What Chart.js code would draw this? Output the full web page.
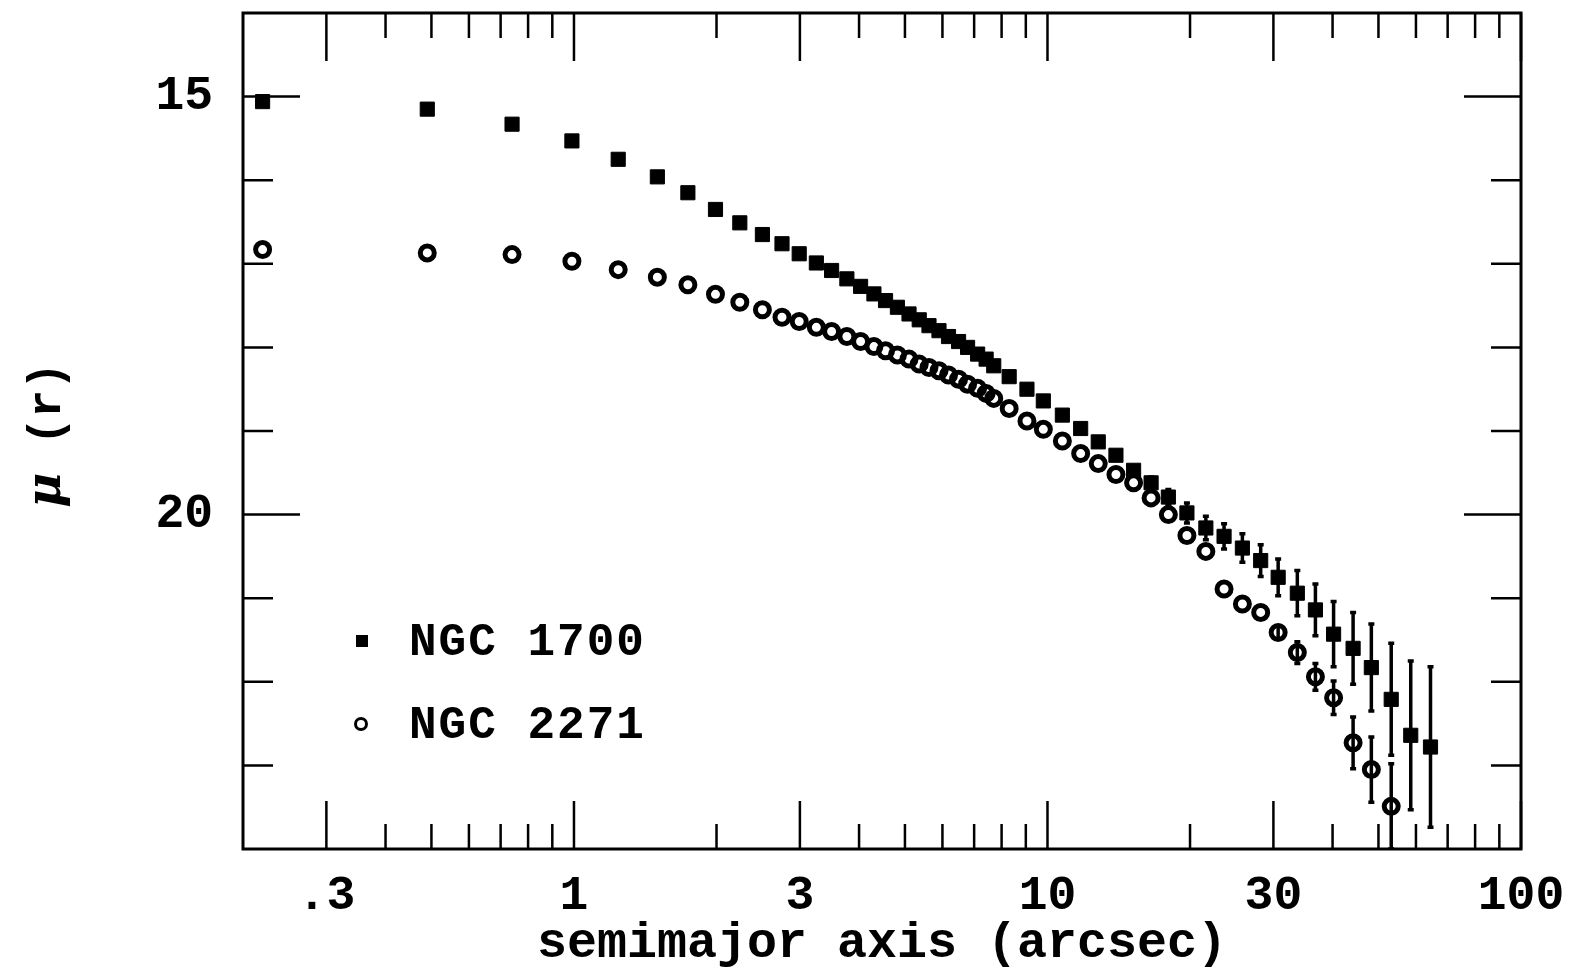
<!DOCTYPE html>
<html>
<head>
<meta charset="utf-8">
<title>Surface brightness profiles</title>
<script src="https://cdn.jsdelivr.net/npm/chart.js@4.4.1/dist/chart.umd.min.js"></script>
<style>
  html, body { margin: 0; padding: 0; background: #fff; }
  canvas { display: block; }
</style>
</head>
<body>
<canvas id="profileChart" width="1585" height="969"></canvas>
<script>
// semimajor axis (arcsec), same sampling for both galaxies
const radius = [0.22, 0.49, 0.74, 0.99, 1.24, 1.50, 1.74, 1.99, 2.24, 2.50,
  2.75, 2.99, 3.25, 3.50, 3.77, 4.03, 4.30, 4.55, 4.82, 5.10,
  5.36, 5.62, 5.90, 6.18, 6.49, 6.78, 7.12, 7.42, 7.70, 8.30,
  9.05, 9.80, 10.75, 11.75, 12.8, 13.95, 15.2, 16.55, 18.0, 19.7,
  21.6, 23.6, 25.8, 28.2, 30.7, 33.7, 36.8, 40.2, 44.2, 48.3,
  53.2, 58.5, 64.4];

// NGC 1700 (filled squares)
const ngc1700Mu = [15.06, 15.15, 15.33, 15.53, 15.75, 15.96, 16.15, 16.35, 16.51, 16.65,
  16.76, 16.88, 16.99, 17.08, 17.18, 17.27, 17.36, 17.44, 17.52, 17.60,
  17.67, 17.74, 17.80, 17.87, 17.93, 18.00, 18.08, 18.14, 18.22, 18.35,
  18.50, 18.64, 18.81, 18.97, 19.13, 19.29, 19.47, 19.62, 19.79, 19.98,
  20.16, 20.26, 20.40, 20.55, 20.75, 20.94, 21.14, 21.43, 21.60, 21.83,
  22.21, 22.64, 22.78];
const ngc1700Err = [0, 0, 0, 0, 0, 0, 0, 0, 0, 0,
  0, 0, 0, 0, 0, 0, 0, 0, 0, 0,
  0, 0, 0, 0, 0, 0, 0, 0, 0, 0,
  0, 0, 0, 0, 0, 0, 0, 0.07, 0.09, 0.12,
  0.14, 0.15, 0.17, 0.19, 0.22, 0.27, 0.31, 0.39, 0.43, 0.52,
  0.67, 0.89, 0.96];

// NGC 2271 (open circles)
const ngc2271Mu = [16.83, 16.87, 16.89, 16.97, 17.07, 17.16, 17.25, 17.365, 17.46, 17.55,
  17.64, 17.69, 17.76, 17.81, 17.87, 17.93, 17.99, 18.04, 18.09, 18.14,
  18.20, 18.24, 18.28, 18.33, 18.38, 18.44, 18.49, 18.55, 18.61, 18.73,
  18.88, 18.98, 19.12, 19.27, 19.39, 19.52, 19.62, 19.80, 20.00, 20.25,
  20.44, 20.89, 21.07, 21.17, 21.41, 21.65, 21.94, 22.19, 22.73, 23.05,
  23.49, null, null];
const ngc2271Err = [0, 0, 0, 0, 0, 0, 0, 0, 0, 0,
  0, 0, 0, 0, 0, 0, 0, 0, 0, 0,
  0, 0, 0, 0, 0, 0, 0, 0, 0, 0,
  0, 0, 0, 0, 0, 0, 0, 0, 0, 0,
  0, 0, 0, 0, 0.08, 0.13, 0.16, 0.20, 0.31, 0.39,
  0.51, 0, 0];

const xMajorTicks = [0.3, 1, 3, 10, 30, 100];
const xTickLabels = ['.3', '1', '3', '10', '30', '100'];
const xMinorTicks = [0.4, 0.5, 0.6, 0.7, 0.8, 0.9, 2, 4, 5, 6, 7, 8, 9, 20, 40, 50, 60, 70, 80, 90];
const yMajorTicks = [15, 20];
const yTickLabels = ['15', '20'];
const yMinorTicks = [16, 17, 18, 19, 21, 22, 23];
const legendLabels = ['NGC 1700', 'NGC 2271'];
const xTitle = 'semimajor axis (arcsec)';
const yTitleParts = ['\u03bc', ' (r)'];

const MONO = '"Liberation Mono", monospace';

function toPoints(mu) {
  return radius.map((r, i) => mu[i] == null ? null : { x: r, y: mu[i] }).filter(p => p);
}

// box with inward ticks on all four sides
const framePlugin = {
  id: 'frame',
  beforeDatasetsDraw(chart) {
    const { ctx, chartArea: a, scales: { x, y } } = chart;
    ctx.save();
    ctx.strokeStyle = '#000';
    ctx.lineWidth = 3;
    ctx.strokeRect(a.left, a.top, a.right - a.left, a.bottom - a.top);
    ctx.lineWidth = 2.5;
    ctx.beginPath();
    const xTicks = (vals, len) => vals.forEach(v => {
      const px = x.getPixelForValue(v);
      ctx.moveTo(px, a.bottom); ctx.lineTo(px, a.bottom - len);
      ctx.moveTo(px, a.top); ctx.lineTo(px, a.top + len);
    });
    const yTicks = (vals, len) => vals.forEach(v => {
      const py = y.getPixelForValue(v);
      ctx.moveTo(a.left, py); ctx.lineTo(a.left + len, py);
      ctx.moveTo(a.right, py); ctx.lineTo(a.right - len, py);
    });
    xTicks(xMajorTicks, 48);
    xTicks(xMinorTicks, 25);
    yTicks(yMajorTicks, 57);
    yTicks(yMinorTicks, 30);
    ctx.stroke();
    ctx.restore();
  }
};

const errorBarPlugin = {
  id: 'errorBars',
  afterDatasetsDraw(chart) {
    const { ctx, chartArea: a, scales: { x, y } } = chart;
    const sets = [[ngc1700Mu, ngc1700Err], [ngc2271Mu, ngc2271Err]];
    ctx.save();
    ctx.beginPath();
    ctx.rect(a.left, a.top, a.right - a.left, a.bottom - a.top);
    ctx.clip();
    ctx.strokeStyle = '#000';
    ctx.lineWidth = 3.5;
    ctx.beginPath();
    sets.forEach(([mu, err]) => {
      radius.forEach((r, i) => {
        if (mu[i] == null || !err[i]) return;
        const px = x.getPixelForValue(r);
        const y1 = y.getPixelForValue(mu[i] - err[i]);
        const y2 = y.getPixelForValue(mu[i] + err[i]);
        ctx.moveTo(px, y1); ctx.lineTo(px, y2);
        ctx.moveTo(px - 3, y1); ctx.lineTo(px + 3, y1);
        ctx.moveTo(px - 3, y2); ctx.lineTo(px + 3, y2);
      });
    });
    ctx.stroke();
    ctx.restore();
  }
};

const legendPlugin = {
  id: 'innerLegend',
  afterDraw(chart) {
    const ctx = chart.ctx;
    const rows = [{ y: 641 }, { y: 724 }];
    ctx.save();
    ctx.fillStyle = '#000';
    ctx.strokeStyle = '#000';
    // square
    ctx.fillRect(356, rows[0].y - 6, 12, 12);
    // ring
    ctx.lineWidth = 3;
    ctx.beginPath();
    ctx.arc(361, rows[1].y, 5.5, 0, Math.PI * 2);
    ctx.stroke();
    ctx.font = 'bold 46px ' + MONO;
    ctx.letterSpacing = '2px';
    ctx.textBaseline = 'middle';
    ctx.textAlign = 'left';
    legendLabels.forEach((t, i) => ctx.fillText(t, 409, rows[i].y + 2));
    ctx.restore();
  }
};

const yTitlePlugin = {
  id: 'yTitle',
  afterDraw(chart) {
    const { ctx, chartArea: a } = chart;
    const cy = (a.top + a.bottom) / 2 + 4;
    const muFont = 'italic bold 48px "DejaVu Serif"';
    const restFont = 'bold 46px ' + MONO;
    ctx.save();
    ctx.translate(48, cy);
    ctx.rotate(-Math.PI / 2);
    ctx.fillStyle = '#000';
    ctx.textBaseline = 'middle';
    ctx.textAlign = 'left';
    ctx.font = muFont;
    const w1 = ctx.measureText(yTitleParts[0]).width;
    ctx.font = restFont;
    const w2 = ctx.measureText(yTitleParts[1]).width;
    const x0 = -(w1 + w2) / 2;
    ctx.font = muFont;
    ctx.fillText(yTitleParts[0], x0, 0);
    ctx.font = restFont;
    ctx.fillText(yTitleParts[1], x0 + w1, 0);
    ctx.restore();
  }
};

new Chart(document.getElementById('profileChart'), {
  type: 'scatter',
  data: {
    datasets: [
      {
        label: legendLabels[0],
        data: toPoints(ngc1700Mu),
        pointStyle: 'rect',
        pointRadius: 10,
        backgroundColor: '#000',
        borderColor: '#000',
        borderWidth: 1
      },
      {
        label: legendLabels[1],
        data: toPoints(ngc2271Mu),
        pointStyle: 'circle',
        pointRadius: 7,
        backgroundColor: 'rgba(0,0,0,0)',
        borderColor: '#000',
        borderWidth: 5
      }
    ]
  },
  options: {
    responsive: false,
    animation: false,
    devicePixelRatio: 1,
    events: [],
    layout: { padding: { top: 13, right: 64, bottom: 0, left: 0 } },
    plugins: { legend: { display: false }, tooltip: { enabled: false } },
    scales: {
      x: {
        type: 'logarithmic',
        min: 0.2,
        max: 100,
        grid: { display: false, drawTicks: false },
        border: { display: false },
        afterBuildTicks: s => { s.ticks = xMajorTicks.map(v => ({ value: v })); },
        afterFit: s => { s.height = 120; s.paddingLeft = 0; s.paddingRight = 0; },
        ticks: {
          autoSkip: false,
          maxRotation: 0,
          padding: 19,
          color: '#000',
          font: { family: MONO, size: 48, weight: 'bold' },
          callback: (v, i) => xTickLabels[i]
        },
        title: {
          display: true,
          text: xTitle,
          color: '#000',
          font: { family: MONO, size: 50, weight: 'bold' },
          padding: { top: 0, bottom: -5 }
        }
      },
      y: {
        type: 'linear',
        reverse: true,
        min: 14,
        max: 24,
        grid: { display: false, drawTicks: false },
        border: { display: false },
        afterBuildTicks: s => { s.ticks = yMajorTicks.map(v => ({ value: v })); },
        afterFit: s => { s.width = 243; s.paddingTop = 0; s.paddingBottom = 0; },
        ticks: {
          padding: 30,
          color: '#000',
          font: { family: MONO, size: 48, weight: 'bold' },
          callback: (v, i) => yTickLabels[i]
        }
      }
    }
  },
  plugins: [framePlugin, errorBarPlugin, legendPlugin, yTitlePlugin]
});
</script>
</body>
</html>
